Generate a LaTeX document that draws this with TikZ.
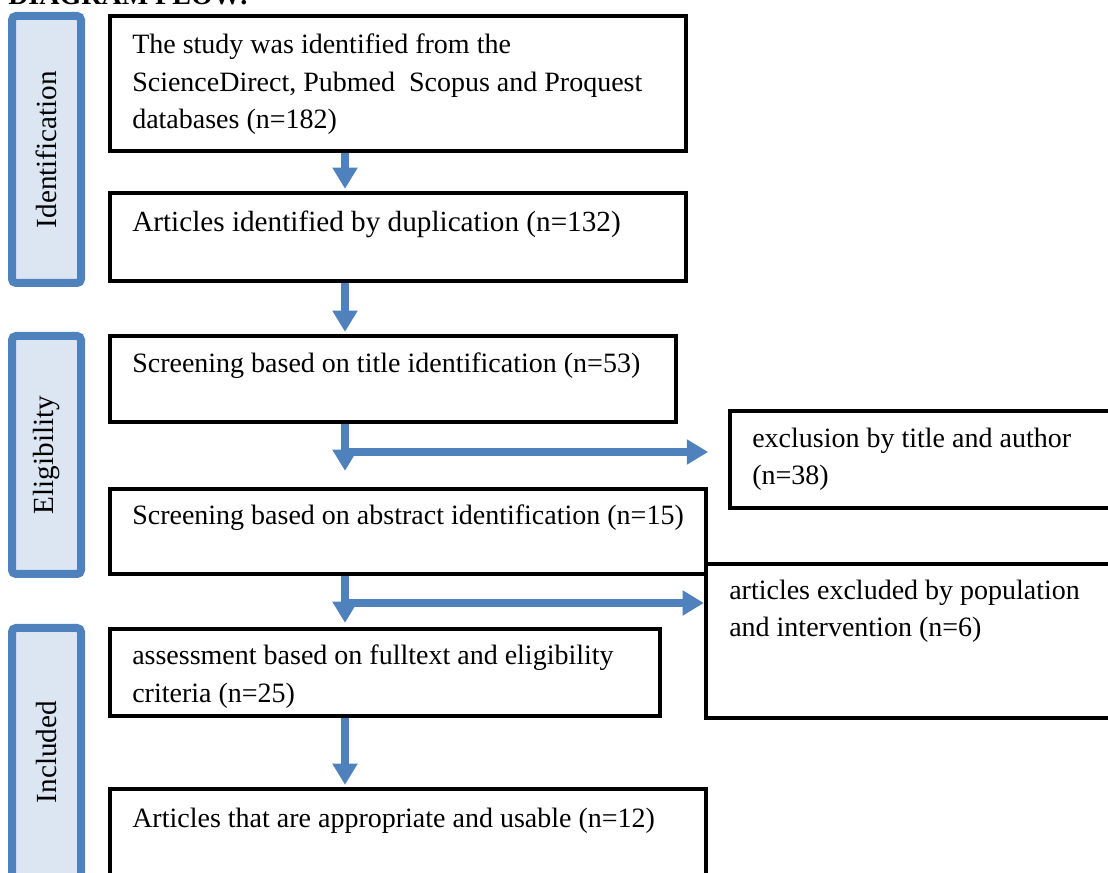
\documentclass[tikz,border=0pt]{standalone}
\usepackage{fontspec}
\setmainfont{Liberation Serif}
\usetikzlibrary{fit,arrows.meta}
\definecolor{sideblue}{HTML}{4F81BD}
\definecolor{sidefill}{HTML}{DCE6F2}
\begin{document}
\begin{tikzpicture}[x=0.75pt,y=-0.75pt,
  box/.style={draw=black,line width=3.2pt,inner sep=0pt},
  side/.style={draw=sideblue,fill=sidefill,line width=6pt,rounded corners=3pt,inner sep=0pt},
  txt/.style={anchor=base west,inner sep=0pt,align=left,font=\fontsize{21}{28.2}\selectfont},
  bigtxt/.style={txt,font=\fontsize{21.9}{28.2}\selectfont},
  sidetxt/.style={rotate=90,inner sep=0pt,font=\fontsize{21.9}{28.2}\selectfont},
  flow/.style={draw=sideblue,line width=6.5pt,-{Triangle[width=18pt,length=16pt]}}]
\useasboundingbox (0,0) rectangle (1108,873);
% title (cut at the top)
\node[anchor=base west,inner sep=0pt,font=\fontsize{21}{28.2}\selectfont\bfseries] (title) at (8,5) {DIAGRAM FLOW:};
% side bars
\node[side,fit={(12,16) (81,283)}] (s1) {};
\node[side,fit={(12,336) (81,574)}] (s2) {};
\node[side,fit={(12,628) (81,900)}] (s3) {};
\node[sidetxt] (s1t) at (s1.center) {Identification};
\node[sidetxt] (s2t) at (s2.center) {Eligibility};
\node[sidetxt] (s3t) at (s3.north |- 0,752) {Included};
% boxes
\node[box,fit={(110,16) (686,151)}] (b1) {};
\node[box,fit={(110,193) (686,281)}] (b2) {};
\node[box,fit={(110,336) (676,422)}] (b3) {};
\node[box,fit={(730,411) (1115,508)}] (b4) {};
\node[box,fit={(110,489) (706,574)}] (b5) {};
\node[box,fit={(706,564) (1115,718)}] (b6) {};
\node[box,fit={(110,629) (660,716)}] (b7) {};
\node[box,fit={(110,789) (706,890)}] (b8) {};
% texts (base anchor = baseline of the last line)
\node[txt] (t1) at (132,129) {The study was identified from the\\ScienceDirect, Pubmed~ Scopus and Proquest\\databases (n=182)};
\node[bigtxt] (t2) at (132,232) {Articles identified by duplication (n=132)};
\node[txt] (t3) at (132,373) {Screening based on title identification (n=53)};
\node[txt] (t4) at (752,485) {exclusion by title and author\\(n=38)};
\node[txt] (t5) at (132,525) {Screening based on abstract identification (n=15)};
\node[txt] (t6) at (729,637) {articles excluded by population\\and intervention (n=6)};
\node[txt] (t7) at (132,702) {assessment based on fulltext and eligibility\\criteria (n=25)};
\node[txt] (t8) at (132,827) {Articles that are appropriate and usable (n=12)};
% connectors
\coordinate (spine) at (345,0);
\coordinate (j1) at (345,452);
\coordinate (j2) at (345,603);
\draw[flow,shorten >=1.5pt] (b1.south -| spine) -- (b2.north -| spine);
\draw[flow,shorten >=1.5pt] (b2.south -| spine) -- (b3.north -| spine);
\draw[flow,shorten >=12pt] (b3.south -| spine) -- (b5.north -| spine);
\draw[flow] (j1) -- (j1 -| b5.east);
\draw[flow,shorten >=3pt] (b5.south -| spine) -- (b7.north -| spine);
\draw[flow] (j2) -- (j2 -| b6.west);
\draw[flow,shorten >=1.5pt] (b7.south -| spine) -- (b8.north -| spine);
\end{tikzpicture}
\end{document}
